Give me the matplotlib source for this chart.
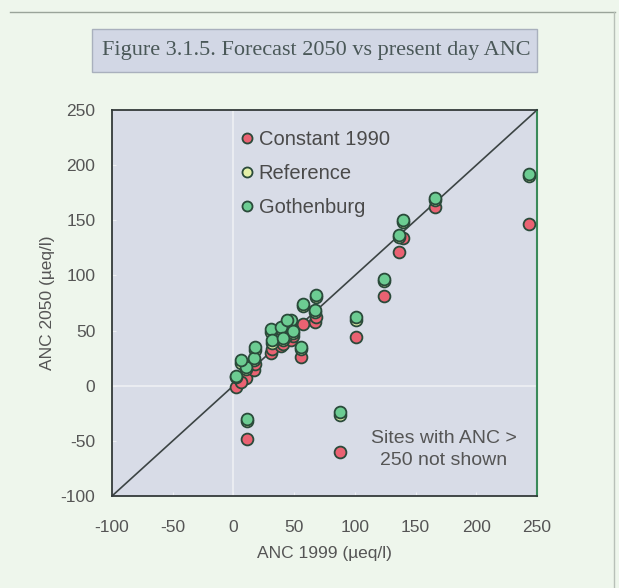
import matplotlib
matplotlib.use("Agg")
import matplotlib.pyplot as plt
from matplotlib.lines import Line2D
from matplotlib.patches import Rectangle

# ---- data ----
anc_1999 = [2, 10, 6, 17, 18, 31, 32, 39, 41, 47, 49, 44, 56, 57, 67, 68,
            11, 88, 101, 124, 136, 140, 166, 243]
constant_1990 = [-1, 7, 3, 14, 20, 30, 33, 36, 38, 41, 45, 46, 26, 56, 58, 62,
                 -48, -60, 44, 81, 121, 134, 162, 147]
reference = [8, 15, 21, 23, 32, 49, 39, 51, 41, 58, 48, 58, 33, 72, 67, 80,
             -32, -27, 60, 95, 135, 148, 168, 190]
gothenburg = [9, 17, 23, 25, 35, 51, 41, 53, 43, 60, 50, 60, 35, 74, 69, 82,
              -30, -24, 62, 97, 137, 150, 170, 192]
series_names = ["Constant 1990", "Reference", "Gothenburg"]
x_ticks = [-100, -50, 0, 50, 100, 150, 200, 250]
y_ticks = [-100, -50, 0, 50, 100, 150, 200, 250]

plt.rcParams['font.family'] = ['Liberation Sans', 'DejaVu Sans']
plt.rcParams['axes.unicode_minus'] = False

fig = plt.figure(figsize=(6.19, 5.88), dpi=100)
fig.patch.set_facecolor('#eef6ec')

# figure frame lines
fig.add_artist(Line2D([10/619, 615/619], [1-12/588, 1-12/588], color='#9aa49a', lw=1))
fig.add_artist(Line2D([614/619, 614/619], [1-12/588, 0], color='#b8c0b8', lw=1))

# title box
fig.add_artist(Rectangle((92/619, 1-72/588), (537-92)/619, 43/588,
                         facecolor='#d2d7e5', edgecolor='#a9b0bd', lw=1))
fig.text((92+537)/2/619 + 0.003, 1-50/588, "Figure 3.1.5. Forecast 2050 vs present day ANC",
         family=['Liberation Serif', 'DejaVu Serif'], fontsize=16, color='#4a5858',
         ha='center', va='center')

ax = fig.add_axes([112/619, 1-496/588, (537-112)/619, (496-110)/588])
ax.set_facecolor('#d8dce7')
ax.set_xlim(-100, 250)
ax.set_ylim(-100, 250)

ax.axhline(0, color='#eef0f4', lw=1.2, zorder=1)
ax.axvline(0, color='#eef0f4', lw=1.2, zorder=1)
ax.plot([-100, 250], [-100, 250], color='#3c4444', lw=1.2, zorder=2)

edge = '#2a4a3a'
ms = 8.5
ax.plot(anc_1999, constant_1990, 'o', ms=ms, mfc='#ea6272', mec=edge, mew=1.3,
        label=series_names[0], zorder=3)
ax.plot(anc_1999, reference, 'o', ms=ms, mfc='#e4f0a8', mec=edge, mew=1.3,
        label=series_names[1], zorder=4)
ax.plot(anc_1999, gothenburg, 'o', ms=ms, mfc='#6ccc92', mec=edge, mew=1.3,
        label=series_names[2], zorder=5)

leg = ax.legend(loc='upper left', bbox_to_anchor=(0.25, 0.995), frameon=False,
                fontsize=14.5, handletextpad=0.0, labelspacing=0.75,
                handlelength=1.1, markerscale=0.85, labelcolor='#4a4a4a')

ax.text(173, -58, "Sites with ANC >\n250 not shown", fontsize=14, color='#555555',
        ha='center', va='center', linespacing=1.35)

ax.set_xticks(x_ticks)
ax.set_yticks(y_ticks)
ax.tick_params(direction='in', length=3, color='#eef0f4', labelsize=12.5,
               labelcolor='#555555')
ax.tick_params(axis='x', pad=17)
ax.tick_params(axis='y', pad=12)

for s in ['left', 'top', 'bottom']:
    ax.spines[s].set_color('#333a3a')
    ax.spines[s].set_linewidth(1.3)
ax.spines['right'].set_color('#3a8a5a')
ax.spines['right'].set_linewidth(1.5)

ax.set_xlabel("ANC 1999 (µeq/l)", fontsize=12.5, color='#555555', labelpad=8)
ax.set_ylabel("ANC 2050 (µeq/l)", fontsize=12.5, color='#555555', labelpad=4)

fig.savefig("out.png", dpi=100, facecolor=fig.get_facecolor())
